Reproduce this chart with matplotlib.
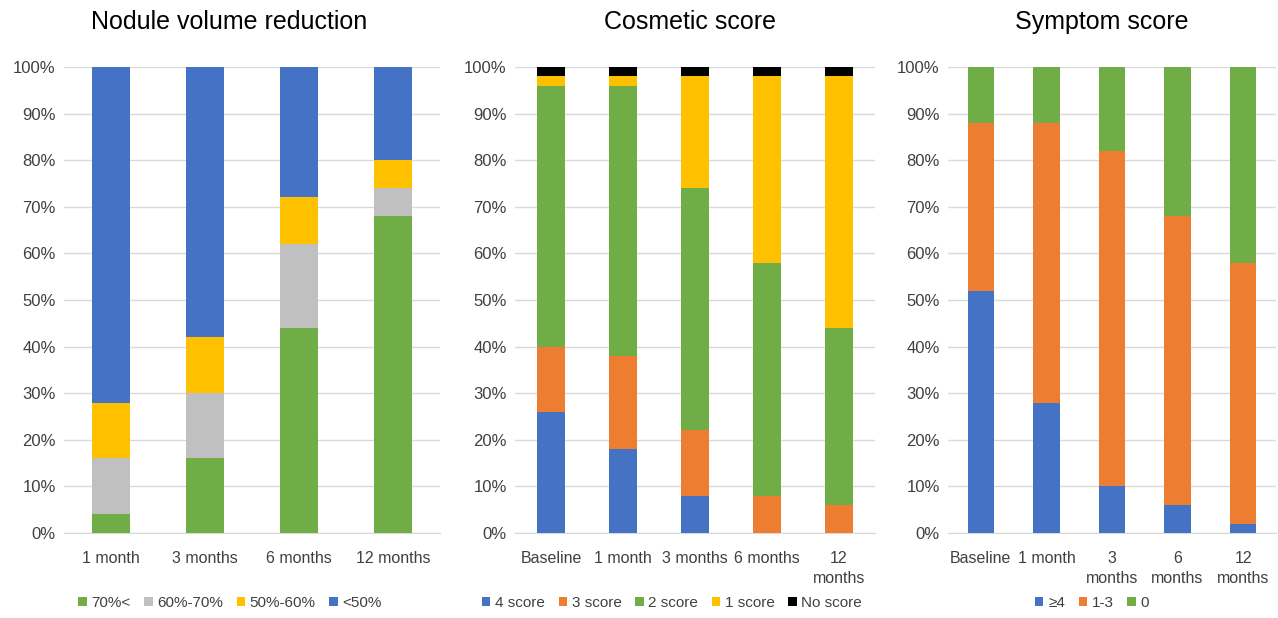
import matplotlib
matplotlib.use('Agg')
import matplotlib.pyplot as plt
from matplotlib.patches import Patch
import numpy as np

plt.rcParams['font.family'] = ['Liberation Sans', 'DejaVu Sans']

# Nodule volume reduction
vol_cats = ['1 month', '3 months', '6 months', '12 months']
vol_labels = ['70%<', '60%-70%', '50%-60%', '<50%']
vol_vals = [
    [4, 16, 44, 68],    # 70%<
    [12, 14, 18, 6],    # 60%-70%
    [12, 12, 10, 6],    # 50%-60%
    [72, 58, 28, 20],   # <50%
]
vol_colors = ['#70AD47', '#C0C0C0', '#FFC000', '#4472C4']

# Cosmetic score
cos_cats = ['Baseline', '1 month', '3 months', '6 months', '12\nmonths']
cos_labels = ['4 score', '3 score', '2 score', '1 score', 'No score']
cos_vals = [
    [26, 18, 8, 0, 0],
    [14, 20, 14, 8, 6],
    [56, 58, 52, 50, 38],
    [2, 2, 24, 40, 54],
    [2, 2, 2, 2, 2],
]
cos_colors = ['#4472C4', '#ED7D31', '#70AD47', '#FFC000', '#000000']

# Symptom score
sym_cats = ['Baseline', '1 month', '3\nmonths', '6\nmonths', '12\nmonths']
sym_labels = ['≥4', '1-3', '0']
sym_vals = [
    [52, 28, 10, 6, 2],
    [36, 60, 72, 62, 56],
    [12, 12, 18, 32, 42],
]
sym_colors = ['#4472C4', '#ED7D31', '#70AD47']

W, H = 1278, 618
fig = plt.figure(figsize=(W / 100, H / 100), dpi=100, facecolor='white')


def panel(rect, cats, labels, vals, colors, title, title_x, leg_x):
    ax = fig.add_axes([rect[0] / W, 1 - 533 / H, (rect[1] - rect[0]) / W, (533 - 67) / H])
    x = np.arange(len(cats))
    bottom = np.zeros(len(cats))
    for v, c in zip(vals, colors):
        ax.bar(x, v, 0.4, bottom=bottom, color=c, zorder=3)
        bottom += np.array(v)
    ax.set_xlim(-0.5, len(cats) - 0.5)
    ax.set_ylim(0, 100)
    ax.set_yticks(range(0, 101, 10))
    ax.set_yticklabels([f'{t}%' for t in range(0, 101, 10)], fontsize=12, color='#404040')
    ax.set_xticks(x)
    ax.set_xticklabels(cats, fontsize=11.5, color='#404040', linespacing=1.45)
    ax.tick_params(axis='y', length=0, pad=6)
    ax.tick_params(axis='x', length=0, pad=13)
    ax.yaxis.grid(True, color='#D9D9D9', linewidth=1, zorder=0)
    for s in ['top', 'right', 'left']:
        ax.spines[s].set_visible(False)
    ax.spines['bottom'].set_color('#D9D9D9')
    fig.text(title_x / W, 1 - 22 / H, title, fontsize=18, ha='center', va='center', color='black')
    handles = [Patch(facecolor=c, label=l) for c, l in zip(colors, labels)]
    ax.legend(handles=handles, loc='center', bbox_to_anchor=(leg_x / W, 1 - 603 / H),
              bbox_transform=fig.transFigure, ncol=len(labels), frameon=False,
              fontsize=11, handlelength=0.55, handleheight=0.55, handletextpad=0.3,
              columnspacing=0.9, labelcolor='#404040')
    return ax


panel((64, 440), vol_cats, vol_labels, vol_vals, vol_colors, 'Nodule volume reduction', 229, 230)
panel((515, 875), cos_cats, cos_labels, cos_vals, cos_colors, 'Cosmetic score', 690, 672)
panel((948, 1276), sym_cats, sym_labels, sym_vals, sym_colors, 'Symptom score', 1102, 1092)

fig.savefig('out.png', dpi=100, facecolor='white')
